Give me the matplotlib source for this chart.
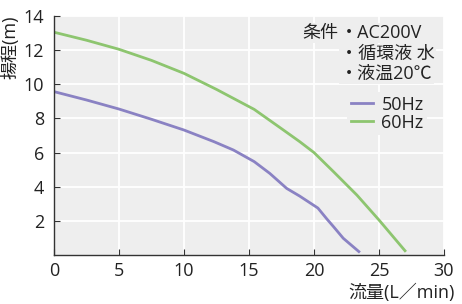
import numpy as np
import matplotlib.pyplot as plt

plt.rcParams['font.family'] = ['Open Sans', 'Noto Sans CJK JP', 'DejaVu Sans']

# flow (L/min) vs head (m)
flow50 = [0, 2.5, 5, 7.5, 10, 12.3, 13.8, 15.4, 16.6, 17.9, 18.9, 20.3, 21.0, 21.5, 22.25, 23.45]
head50 = [9.57, 9.08, 8.55, 7.95, 7.32, 6.64, 6.15, 5.47, 4.78, 3.9, 3.45, 2.75, 2.1, 1.66, 0.98, 0.2]

flow60 = [0, 2.5, 5, 7.5, 10, 12.5, 15.4, 17.5, 18.9, 20, 21.5, 23.3, 25, 27]
head60 = [13.05, 12.58, 12.05, 11.4, 10.64, 9.7, 8.53, 7.4, 6.64, 6.0, 4.88, 3.51, 2.05, 0.25]

xticks = [0, 5, 10, 15, 20, 25, 30]
yticks = [2, 4, 6, 8, 10, 12, 14]

bg = '#eeeeee'
c50 = '#8a82c3'
c60 = '#8dc56f'
fs = 13

fig = plt.figure(figsize=(4.62, 3.04), dpi=100)
ax = fig.add_axes([54/462, 1-255/304, 390/462, 239/304])
ax.set_facecolor(bg)
ax.set_xlim(0, 30)
ax.set_ylim(0, 14)
ax.set_xticks(xticks)
ax.set_yticks(yticks)
ax.grid(True, color='white', linewidth=1.3)
ax.set_axisbelow(True)
for s in ['top', 'right']:
    ax.spines[s].set_visible(False)
for s in ['left', 'bottom']:
    ax.spines[s].set_color('#333333')
    ax.spines[s].set_linewidth(1.0)
ax.tick_params(direction='in', length=4, width=0.8, color='#333333',
               labelsize=fs, labelcolor='#222222', pad=7)
ax.tick_params(axis='x', pad=5)

ax.plot(flow50, head50, color=c50, linewidth=2, label='50Hz')
ax.plot(flow60, head60, color=c60, linewidth=2, label='60Hz')

def px(x, y):
    return (x - 54) / 390, (255 - y) / 239

tkw = dict(fontsize=fs, color='#222222', transform=ax.transAxes, va='center',
           ha='left', bbox=dict(facecolor=bg, edgecolor='none', pad=1))
ax.text(*px(302, 33), '条件', **tkw)
ax.text(*px(340, 33), '・AC200V', **tkw)
ax.text(*px(340, 54), '・循環液 水', **tkw)
ax.text(*px(340, 74), '・液温20℃', **tkw)

leg = ax.legend(loc='upper left', bbox_to_anchor=px(338, 83),
                fontsize=fs, frameon=True, facecolor=bg, edgecolor='none',
                framealpha=1, handlelength=1.25, handletextpad=0.45,
                borderpad=0.2, labelspacing=0.0, fancybox=False)
for t in leg.get_texts():
    t.set_color('#222222')

fig.text(11/462, 1-47/304, '揚程(m)', rotation=90, ha='center', va='center',
         fontsize=fs, color='#222222')
fig.text(455/462, 1-293/304, '流量(L／min)', ha='right', va='center',
         fontsize=fs, color='#222222')

fig.savefig('out.png', dpi=100)
